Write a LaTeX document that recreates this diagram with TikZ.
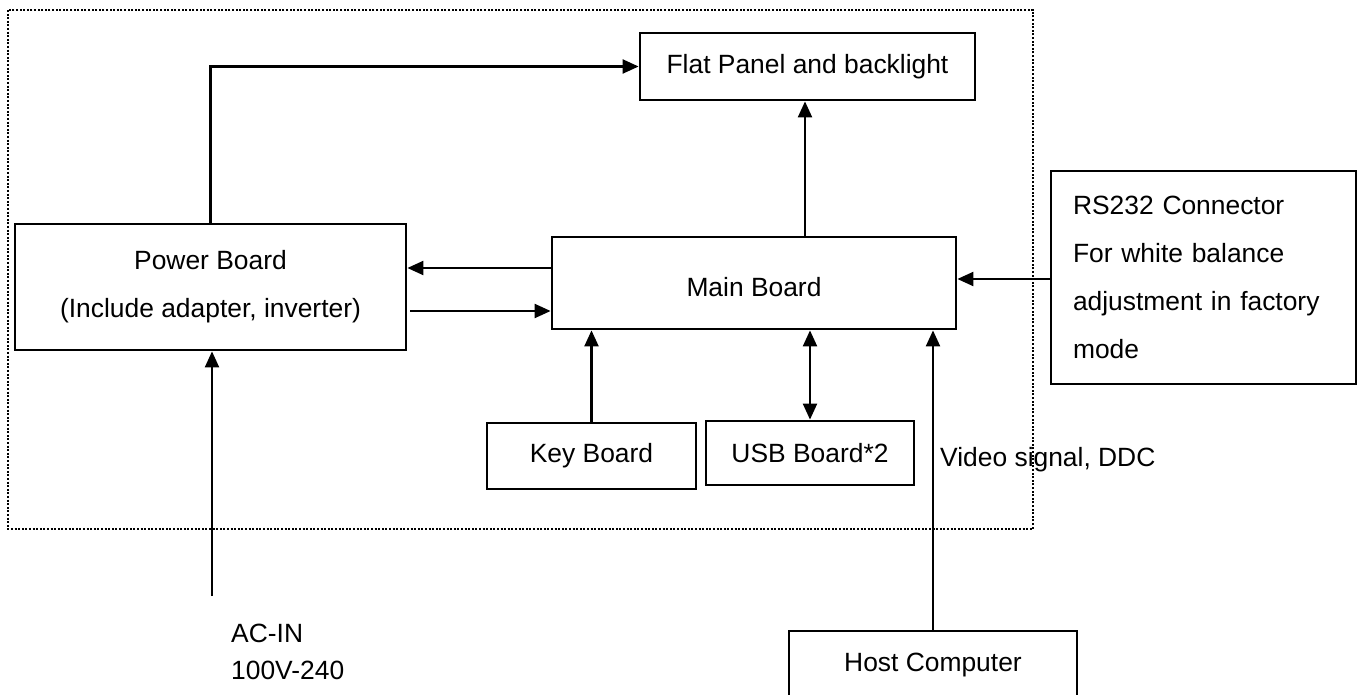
\documentclass[tikz,border=0pt]{standalone}
\usepackage{fontspec}
\setmainfont{Liberation Sans}
\usetikzlibrary{arrows.meta}
\begin{document}
\begin{tikzpicture}[x=1pt,y=-1pt,
  txt/.style={font=\fontsize{26.4}{47.8}\selectfont},
  box/.style={draw, line width=2.8pt, inner sep=0pt, align=center, txt},
  conn/.style={line width=2.2pt, -{Triangle[length=16pt,width=14pt]}},
  both/.style={line width=2.2pt, {Triangle[length=16pt,width=14pt]}-{Triangle[length=16pt,width=14pt]}},
  frame/.style={line width=2.5pt, dash pattern=on 2pt off 1.6pt}]
\useasboundingbox (0,0) rectangle (1361,695);
% dotted enclosure
\draw[frame] (8,10) rectangle (1033,529);
% boxes
\node[box, minimum width=335pt, minimum height=67pt] (flat) at (807.5,66.5) {Flat Panel and backlight};
\node[box, minimum width=391pt, minimum height=126pt] (power) at (210.5,287) {Power Board\\(Include adapter, inverter)};
\node[box, minimum width=404pt, minimum height=92pt, text height=27pt, text depth=0pt] (main) at (754,283) {Main Board};
\node[box, minimum width=209pt, minimum height=66pt] (key) at (591.5,456) {Key Board};
\node[box, minimum width=208pt, minimum height=64pt] (usb) at (810,453) {USB Board*2};
\node[box, minimum width=305pt, minimum height=213pt, text width=261pt, inner xsep=22pt, align=left] (rs) at (1203.5,277.5) {RS232 Connector\\For white balance\\adjustment in factory\\mode};
\node[box, minimum width=288pt, minimum height=69pt] (host) at (933,665.5) {Host Computer};
% free texts
\node[txt, anchor=base west, inner sep=0pt] (acin) at (231,642.5) {AC-IN};
\node[txt, anchor=base west, inner sep=0pt] (volt) at (231,679.5) {100V-240};
\node[txt, anchor=base west, inner sep=0pt] (video) at (940,466.5) {Video signal, DDC};
% connectors
\draw[conn] (power.north) |- (flat.west);
\draw[conn] (main.north -| 805,0) -- (flat.south -| 805,0);
\draw[conn] (main.west |- 0,268) -- (power.east |- 0,268);
\draw[conn] ([xshift=3pt]power.east |- 0,311) -- (main.west |- 0,311);
\draw[conn] (rs.west |- 0,279) -- (main.east |- 0,279);
\draw[conn] (key.north) -- (key.north |- main.south);
\draw[both] (usb.north) -- (usb.north |- main.south);
\draw[conn] (host.north) -- (host.north |- main.south);
\coordinate (acend) at (212,596);
\draw[conn] (acend) -- (acend |- power.south);
\end{tikzpicture}
\end{document}
